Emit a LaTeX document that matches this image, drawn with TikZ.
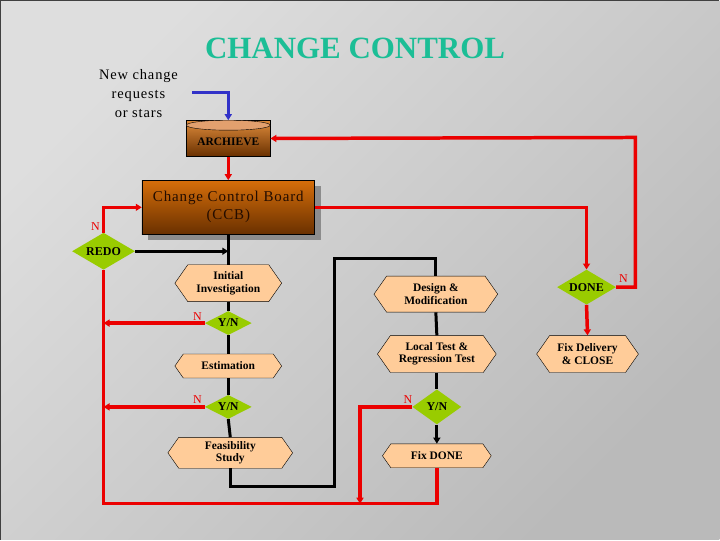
\documentclass[tikz,border=0pt]{standalone}
\usepackage{fontspec}
\setmainfont{Liberation Serif}
\newfontfamily\spacedfont[LetterSpace=6]{Liberation Serif}
\usetikzlibrary{calc,shapes.geometric,shapes.symbols,shadows,arrows.meta}

\definecolor{bgtop}{RGB}{222,222,222}
\definecolor{bgbot}{RGB}{186,186,186}
\definecolor{titlegreen}{RGB}{28,190,150}
\definecolor{hexfill}{RGB}{255,204,153}
\definecolor{choicegreen}{RGB}{153,204,0}
\definecolor{flowred}{RGB}{235,0,0}
\definecolor{flowblue}{RGB}{50,50,200}
\definecolor{boxtop}{RGB}{214,110,10}
\definecolor{boxbot}{RGB}{105,48,0}
\definecolor{archtop}{RGB}{226,160,110}

\begin{document}
\begin{tikzpicture}[x=1pt, y=-1pt,
  hexbox/.style={signal, signal to=east and west, signal pointer angle=110,
    draw=black, thin, fill=hexfill, inner sep=1pt, align=center,
    font=\fontsize{11.5}{12.5}\selectfont\bfseries},
  choice/.style={diamond, fill=choicegreen, inner sep=0pt, aspect=1.8,
    font=\fontsize{12}{13}\selectfont\bfseries},
  nlabel/.style={text=flowred, font=\fontsize{12}{13}\selectfont},
  redline/.style={draw=flowred, line width=3.5pt},
  blackline/.style={draw=black, line width=3pt},
  tip/.style={-{Triangle[length=6pt,width=7pt]}},
]

% Background
\fill[top color=bgtop, bottom color=bgbot, shading angle=45] (0,0) rectangle (720,540);
\draw[black!75, line width=1.5pt] (0,540) -- (0,0) -- (720,0);
\useasboundingbox (0,0) rectangle (720,540);

% Title
\node[text=titlegreen, font=\fontsize{31}{34}\selectfont\bfseries] (title) at (355,48) {CHANGE CONTROL};

% New requests
\node[align=center, font=\spacedfont\fontsize{14.5}{19}\selectfont] (newreq) at (138,93) {New change\\requests\\or stars};
\coordinate (newin) at (192,92);

% Archive (cylinder)
\node[cylinder, shape border rotate=90, aspect=0.12, minimum width=84pt, minimum height=36pt,
  draw=black, thin, top color=boxtop!80!white, bottom color=boxbot, inner sep=0pt] (arch) at (228,138) {};
\fill[archtop, draw=black, thin] ($(arch.top)+(0,5)$) ellipse [x radius=42pt, y radius=5pt];
\node[font=\fontsize{11.5}{12.5}\selectfont\bfseries] (archtext) at (228,141) {ARCHIEVE};

% CCB
\node[draw=black, thin, top color=boxtop, bottom color=boxbot, minimum width=173pt, minimum height=54pt,
  drop shadow={shadow xshift=6pt, shadow yshift=-6pt, fill=black!45, opacity=1},
  align=center, text={rgb,255:red,35;green,12;blue,0},
  font=\spacedfont\fontsize{15}{18}\selectfont] (ccb) at (228,207) {Change Control Board\\(CCB)};

% Left column
\node[choice, minimum width=63pt, minimum height=37pt] (redo) at (103,251) {REDO};
\node[hexbox, minimum width=107pt, minimum height=37pt] (init) at (228,283) {Initial\\Investigation};
\node[choice, minimum width=47pt, minimum height=24pt] (yna) at (228,323) {Y/N};
\node[hexbox, minimum width=107pt, minimum height=24pt] (est) at (228,366) {Estimation};
\node[choice, minimum width=47pt, minimum height=24pt] (ynb) at (228,407) {Y/N};
\node[hexbox, minimum width=125pt, minimum height=31pt] (feas) at (230,453) {Feasibility\\Study};

% Middle column
\node[hexbox, minimum width=124pt, minimum height=36pt] (design) at (436,294) {Design \&\\Modification};
\node[hexbox, minimum width=119pt, minimum height=37pt] (ltest) at (437,354) {Local Test \&\\Regression Test};
\node[choice, minimum width=49pt, minimum height=35pt] (ync) at (437,407) {Y/N};
\node[hexbox, minimum width=109pt, minimum height=24pt] (fixdone) at (437,456) {Fix DONE};

% Right column
\node[choice, minimum width=59pt, minimum height=35pt] (done) at (587,287) {DONE};
\node[hexbox, minimum width=102pt, minimum height=37pt] (fixdel) at (588,354) {Fix Delivery\\\& CLOSE};

% Turning points
\coordinate (lowturn) at (334,487);
\coordinate (highturn) at (334,258);
\coordinate (farright) at (636,137);
\coordinate (botL) at (360,504);
\coordinate (botR) at (437,504);

% Black flow
\draw[blackline] (ccb.south) -- (init.north);
\draw[blackline, tip] (redo.east) -- (redo.east -| init.north);
\draw[blackline] (init.south) -- (yna.north);
\draw[blackline] (yna.south) -- (est.north);
\draw[blackline] (est.south) -- (ynb.north);
\draw[blackline] (ynb.south) -- (feas.north);
\draw[blackline] (feas.south) |- (lowturn) -- (highturn) -| (design.north);
\draw[blackline] (design.south) -- (ltest.north);
\draw[blackline] (ltest.south) -- (ync.north);
\draw[blackline, tip] (ync.south) -- (fixdone.north);

% Red flow
\draw[redline, tip] (arch.bottom) -- (ccb.north);
\draw[redline, tip] (redo.north) |- (ccb.west);
\draw[redline, tip] (ccb.east) -| (done.north);
\draw[redline, tip] (done.east) -| (farright) -- (arch.east);
\draw[redline, tip] (done.south) -- (fixdel.north);
\draw[redline, tip] (yna.west) -- (yna.west -| redo.south);
\draw[redline, tip] (ynb.west) -- (ynb.west -| redo.south);
\draw[redline] (redo.south) |- (botR) -- (fixdone.south);
\draw[redline, tip] (ync.west) -| (botL);

% Blue input
\draw[draw=flowblue, line width=3pt, tip] (newin) -| (arch.top);

% N labels
\node[nlabel] (nredo) at (95,226) {N};
\node[nlabel] (nyna) at (197,316) {N};
\node[nlabel] (nynb) at (197,400) {N};
\node[nlabel] (nync) at (408,400) {N};
\node[nlabel] (ndone) at (624,278) {N};

\end{tikzpicture}
\end{document}
